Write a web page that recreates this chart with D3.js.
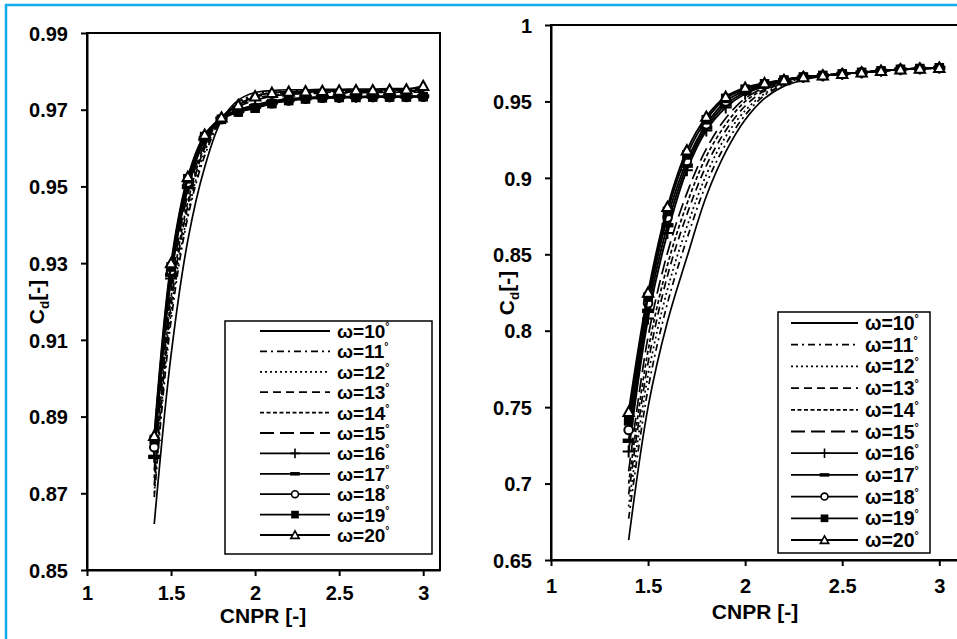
<!DOCTYPE html>
<html><head><meta charset="utf-8">
<script src="https://cdn.jsdelivr.net/npm/d3@7"></script>
<style>
html,body{margin:0;padding:0;background:#fff;}
svg{display:block;font-family:"Liberation Sans",Arial,sans-serif;font-weight:bold;}
</style>
</head><body>
<svg id="c" width="957" height="639"></svg>
<script>
// ---------------- data ----------------
const cnpr = [1.4,1.5,1.6,1.7,1.8,1.9,2.0,2.1,2.2,2.3,2.4,2.5,2.6,2.7,2.8,2.9,3.0];
const angleNames = ["10","11","12","13","14","15","16","17","18","19","20"];

// left panel Cd values
const left10 = [0.862,0.906,0.936,0.955,0.9672,0.9725,0.9745,0.9750,0.9752,0.9752,0.9753,0.9753,0.9754,0.9754,0.9755,0.9755,0.9756];
const left11 = [0.869,0.915,0.942,0.958,0.9675,0.9720,0.9740,0.9747,0.9749,0.9750,0.9750,0.9751,0.9751,0.9752,0.9752,0.9753,0.9753];
const left12 = [0.870,0.917,0.943,0.959,0.9677,0.9717,0.9737,0.9744,0.9747,0.9748,0.9749,0.9749,0.9750,0.9750,0.9751,0.9751,0.9752];
const left13 = [0.872,0.919,0.945,0.960,0.9678,0.9714,0.9733,0.9741,0.9745,0.9746,0.9747,0.9748,0.9748,0.9749,0.9749,0.9750,0.9750];
const left14 = [0.874,0.921,0.946,0.9605,0.9679,0.9711,0.9729,0.9738,0.9742,0.9744,0.9745,0.9746,0.9746,0.9747,0.9747,0.9748,0.9748];
const left15 = [0.876,0.923,0.948,0.961,0.9680,0.9708,0.9725,0.9735,0.9740,0.9742,0.9743,0.9744,0.9744,0.9745,0.9745,0.9746,0.9746];
const left16 = [0.8795,0.926,0.9495,0.962,0.9678,0.9700,0.9712,0.9722,0.9728,0.9731,0.9733,0.9734,0.9734,0.9735,0.9735,0.9735,0.9736];
const left17 = [0.8795,0.927,0.950,0.9625,0.9677,0.9697,0.9708,0.9719,0.9726,0.9730,0.9732,0.9733,0.9733,0.9734,0.9734,0.9734,0.9735];
const left18 = [0.882,0.928,0.951,0.963,0.9676,0.9695,0.9705,0.9717,0.9724,0.9729,0.9731,0.9732,0.9733,0.9733,0.9733,0.9734,0.9734];
const left19 = [0.884,0.929,0.952,0.963,0.9675,0.9694,0.9704,0.9716,0.9724,0.9728,0.9731,0.9732,0.9732,0.9733,0.9733,0.9733,0.9734];
const left20 = [0.885,0.930,0.9525,0.9635,0.9680,0.9712,0.9735,0.9744,0.9747,0.9748,0.9749,0.9750,0.9751,0.9751,0.9752,0.9753,0.9762];

// right panel Cd values
const right10 = [0.663,0.750,0.806,0.848,0.888,0.917,0.938,0.952,0.960,0.964,0.9665,0.968,0.969,0.970,0.971,0.9715,0.972];
const right11 = [0.677,0.762,0.818,0.860,0.896,0.922,0.941,0.954,0.961,0.965,0.967,0.968,0.969,0.970,0.971,0.9715,0.972];
const right12 = [0.685,0.771,0.827,0.868,0.902,0.927,0.944,0.955,0.962,0.965,0.967,0.968,0.969,0.970,0.971,0.9715,0.972];
const right13 = [0.693,0.779,0.836,0.876,0.908,0.931,0.947,0.957,0.962,0.9655,0.967,0.968,0.969,0.970,0.971,0.9715,0.972];
const right14 = [0.700,0.787,0.843,0.883,0.914,0.935,0.950,0.958,0.963,0.966,0.967,0.968,0.969,0.970,0.971,0.9715,0.972];
const right15 = [0.708,0.796,0.851,0.890,0.919,0.939,0.952,0.959,0.963,0.966,0.967,0.968,0.969,0.970,0.971,0.9715,0.972];
const right16 = [0.721,0.808,0.864,0.905,0.931,0.946,0.955,0.960,0.964,0.966,0.967,0.968,0.969,0.970,0.971,0.9715,0.972];
const right17 = [0.728,0.813,0.869,0.908,0.933,0.948,0.956,0.961,0.964,0.966,0.967,0.968,0.969,0.970,0.971,0.9715,0.972];
const right18 = [0.735,0.818,0.874,0.911,0.935,0.950,0.957,0.961,0.964,0.966,0.967,0.968,0.969,0.970,0.971,0.9715,0.972];
const right19 = [0.741,0.822,0.878,0.915,0.938,0.952,0.958,0.9615,0.964,0.966,0.967,0.968,0.969,0.970,0.971,0.9715,0.972];
const right20 = [0.747,0.825,0.881,0.918,0.940,0.953,0.959,0.962,0.964,0.966,0.967,0.968,0.969,0.970,0.971,0.9715,0.972];

const xTickValues = [1,1.5,2,2.5,3];
const leftYTicks = [0.85,0.87,0.89,0.91,0.93,0.95,0.97,0.99];
const rightYTicks = [0.65,0.7,0.75,0.8,0.85,0.9,0.95,1];

const leftSeries = [left10,left11,left12,left13,left14,left15,left16,left17,left18,left19,left20];
const rightSeries = [right10,right11,right12,right13,right14,right15,right16,right17,right18,right19,right20];

// ---------------- styles ----------------
const seriesStyle = [
  {dash:null, marker:null},
  {dash:"7,4,2,4", marker:null},
  {dash:"2,3", marker:null},
  {dash:"8,5", marker:null},
  {dash:"4,2.5", marker:null},
  {dash:"14,6", marker:null},
  {dash:null, marker:"plus"},
  {dash:null, marker:"bar"},
  {dash:null, marker:"circle"},
  {dash:null, marker:"square"},
  {dash:null, marker:"triangle"}
];

const svg = d3.select("#c");

// blue frame
svg.append("line").attr("x1",5).attr("x2",957).attr("y1",5).attr("y2",5)
  .attr("stroke","#12ACEC").attr("stroke-width",2.5);
svg.append("line").attr("x1",6).attr("x2",6).attr("y1",4).attr("y2",639)
  .attr("stroke","#12ACEC").attr("stroke-width",2.5);

function drawMarker(g, type, x, y, s, sw) {
  s = s || 1; sw = sw || 2;
  if (type === "plus") {
    g.append("path").attr("d",`M${x-6*s},${y}H${x+6*s}M${x},${y-6*s}V${y+6*s}`)
      .attr("stroke","#000").attr("stroke-width",sw).attr("fill","none");
  } else if (type === "bar") {
    g.append("rect").attr("x",x-6*s).attr("y",y-2.2*s).attr("width",12*s).attr("height",4.4*s).attr("fill","#000");
  } else if (type === "circle") {
    g.append("circle").attr("cx",x).attr("cy",y).attr("r",4.3*s)
      .attr("fill","#fff").attr("stroke","#000").attr("stroke-width",sw);
  } else if (type === "square") {
    g.append("rect").attr("x",x-4.8*s).attr("y",y-4.8*s).attr("width",9.6*s).attr("height",9.6*s).attr("fill","#000");
  } else if (type === "triangle") {
    const h = 5.2*s;
    g.append("path").attr("d",`M${x},${y-h}L${x+h},${y+h*0.8}L${x-h},${y+h*0.8}Z`)
      .attr("fill","#fff").attr("stroke","#000").attr("stroke-width",sw);
  }
}

function panel(cfg) {
  const g = svg.append("g");
  const x = d3.scaleLinear().domain([1,3.1]).range([cfg.x0,cfg.x1]);
  const y = d3.scaleLinear().domain(cfg.yDomain).range([cfg.y1,cfg.y0]);

  const line = d3.line().x((d,i)=>x(cnpr[i])).y(d=>y(d)).curve(d3.curveCatmullRom.alpha(0.5));

  cfg.series.forEach((vals,k)=>{
    const st = seriesStyle[k];
    g.append("path").attr("d",line(vals)).attr("fill","none")
      .attr("stroke","#000").attr("stroke-width",st.marker?1.9:1.7)
      .attr("stroke-dasharray",st.dash);
    if (st.marker) vals.forEach((v,i)=>drawMarker(g, st.marker, x(cnpr[i]), y(v), 1, 2));
  });

  // frame
  g.append("rect").attr("x",cfg.x0).attr("y",cfg.y0).attr("width",cfg.x1-cfg.x0).attr("height",cfg.y1-cfg.y0)
    .attr("fill","none").attr("stroke","#000").attr("stroke-width",2);

  // axes
  const yAxis = d3.axisLeft(y).tickValues(cfg.yTicks).tickSize(6).tickSizeOuter(0)
     .tickFormat(d=>d3.format("")(+d.toFixed(2)));
  const ya = g.append("g").attr("transform",`translate(${cfg.x0},0)`).call(yAxis);
  ya.select(".domain").attr("stroke-width",2);
  ya.selectAll(".tick line").attr("stroke-width",2);
  ya.selectAll(".tick text").attr("x",-19).attr("dy","0.36em")
    .style("font-size",cfg.tickFont+"px").style("font-weight","bold")
    .style("font-family","'Liberation Sans',Arial,sans-serif").attr("fill","#000");

  const xAxis = d3.axisBottom(x).tickValues(xTickValues).tickSize(6).tickSizeOuter(0)
     .tickFormat(d=>String(d));
  const xa = g.append("g").attr("transform",`translate(0,${cfg.y1})`).call(xAxis);
  xa.select(".domain").attr("stroke-width",2);
  xa.selectAll(".tick line").attr("stroke-width",2);
  xa.selectAll(".tick text").attr("y",cfg.xLabelBase).attr("dy",0)
    .style("font-size",cfg.tickFont+"px").style("font-weight","bold")
    .style("font-family","'Liberation Sans',Arial,sans-serif").attr("fill","#000");

  // axis titles
  g.append("text").attr("x",cfg.xTitleX).attr("y",cfg.xTitleY).attr("text-anchor","middle")
    .style("font-size",cfg.titleFont+"px").text("CNPR [-]");
  const yt = g.append("text").attr("transform",`translate(${cfg.yTitleX},${cfg.yTitleY}) rotate(-90)`)
    .attr("text-anchor","middle").style("font-size",cfg.titleFont+"px");
  yt.append("tspan").text("C");
  yt.append("tspan").attr("dy",5).style("font-size",(cfg.titleFont*0.65)+"px").text("d");
  yt.append("tspan").attr("dy",-5).text("[-]");

  // legend
  const L = cfg.legend;
  g.append("rect").attr("x",L.x).attr("y",L.y).attr("width",L.w).attr("height",L.h)
    .attr("fill","#fff").attr("stroke","#000").attr("stroke-width",1.5);
  angleNames.forEach((nm,k)=>{
    const st = seriesStyle[k];
    const cy = L.row0 + k*L.step;
    g.append("line").attr("x1",L.lx0).attr("x2",L.lx1).attr("y1",cy).attr("y2",cy)
      .attr("stroke","#000").attr("stroke-width",1.8).attr("stroke-dasharray",st.dash);
    if (st.marker) drawMarker(g, st.marker, (L.lx0+L.lx1)/2, cy, 0.8, 1.6);
    const t = g.append("text").attr("x",L.tx).attr("y",cy+7).style("font-size",L.font+"px");
    t.append("tspan").text("ω=" + nm);
    t.append("tspan").attr("dy",-8).style("font-size",(L.font*0.55)+"px").text("°");
  });
}

panel({
  x0:87, x1:440, y0:33, y1:570, yDomain:[0.85,0.99], yTicks:leftYTicks,
  series:leftSeries, tickFont:20, titleFont:21, xLabelBase:30,
  xTitleX:263, xTitleY:623, yTitleX:44, yTitleY:302,
  legend:{x:225, y:321, w:207, h:233, lx0:260, lx1:330, tx:337, row0:331, step:20.4, font:19}
});

panel({
  x0:551, x1:958.7, y0:25, y1:560, yDomain:[0.65,1], yTicks:rightYTicks,
  series:rightSeries, tickFont:20, titleFont:21, xLabelBase:33,
  xTitleX:755, xTitleY:619, yTitleX:514, yTitleY:293,
  legend:{x:778, y:312, w:152, h:241, lx0:791, lx1:858, tx:865, row0:323, step:21.7, font:19.5}
});
</script>
</body></html>
